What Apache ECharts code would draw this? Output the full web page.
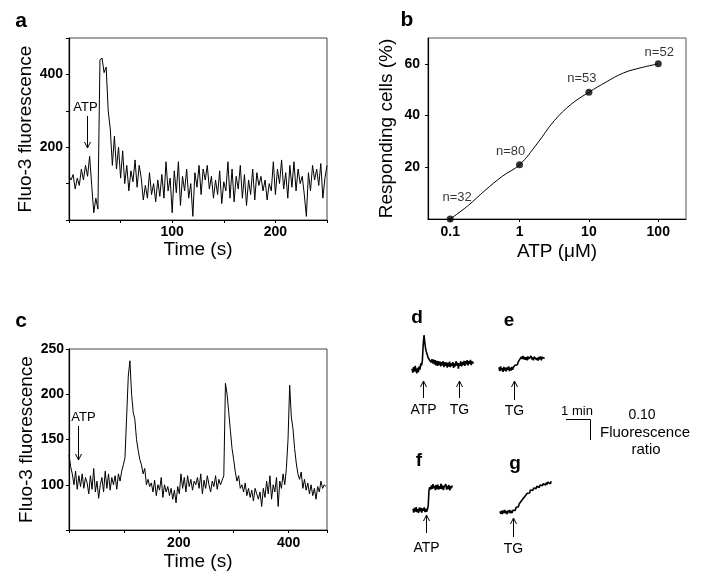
<!DOCTYPE html>
<html>
<head>
<meta charset="utf-8">
<script src="https://cdn.jsdelivr.net/npm/echarts@6/dist/echarts.min.js"></script>
<style>
  html, body { margin: 0; background: #fff; }
  #chart { width: 704px; height: 585px; }
</style>
</head>
<body>
<div id="chart"></div>
<script>
const FONT = 'Liberation Sans, Arial, sans-serif';

// a: Fluo-3 fluorescence, one sample every 2 s
const aStep = 2;
const aTrace = [
  120, 110, 125, 85, 115, 95, 140, 110, 150, 120, 175, 95, 20, 60, 30, 440,
  445, 405, 420, 300, 250, 150, 230, 140, 200, 115, 190, 100, 150, 80, 135, 105,
  165, 90, 150, 115, 55, 95, 60, 130, 70, 100, 50, 110, 65, 125, 60, 160,
  80, 115, 20, 135, 75, 160, 40, 120, 80, 140, 60, 100, 10, 130, 90, 150,
  70, 140, 110, 150, 85, 120, 60, 110, 70, 135, 45, 105, 80, 160, 60, 140,
  50, 120, 85, 150, 60, 125, 40, 110, 70, 140, 55, 130, 95, 120, 80, 110,
  55, 100, 80, 160, 70, 140, 100, 165, 85, 130, 60, 150, 90, 160, 80, 140,
  100, 120, 70, 10, 130, 80, 150, 110, 140, 95, 155, 60, 115, 150
];

// b: dose response
const bConc = [0.1, 1, 10, 100];
const bPercent = [0, 21, 49, 60];
const bCounts = ['n=32', 'n=80', 'n=53', 'n=52'];
const bFitLogConc = [-1, -0.75, -0.5, -0.25, 0, 0.25, 0.5, 0.75, 1, 1.25, 1.5, 1.75, 2];
const bFitPercent = [0, 5, 11, 16.5, 21, 29, 38, 44.5, 49, 53, 56.5, 58.5, 60];
const bTicks = [0.1, 1, 10, 100];

// c: oscillating Fluo-3 fluorescence, one sample every 3 s
const cStep = 3;
const cTrace = [
  133, 120, 112, 100, 115, 95, 110, 98, 112, 96, 108, 102, 90, 110, 95, 118,
  92, 104, 85, 100, 108, 92, 115, 96, 112, 94, 108, 100, 110, 95, 112, 104,
  115, 122, 130, 175, 220, 237, 200, 180, 172, 150, 138, 128, 122, 112, 118, 100,
  106, 98, 102, 92, 105, 88, 100, 94, 108, 86, 100, 92, 98, 88, 96, 84,
  94, 80, 98, 90, 112, 96, 108, 92, 110, 98, 106, 94, 104, 100, 108, 96,
  112, 90, 105, 96, 110, 100, 92, 104, 98, 110, 95, 106, 100, 102, 110, 212,
  200, 180, 160, 140, 128, 114, 104, 110, 96, 100, 92, 102, 88, 96, 86, 94,
  82, 96, 90, 84, 92, 76, 96, 86, 104, 90, 110, 84, 100, 92, 108, 76,
  104, 96, 112, 100, 118, 150, 210, 175, 162, 140, 124, 112, 106, 114, 96, 106,
  94, 102, 90, 100, 88, 96, 84, 98, 92, 104, 96, 100, 98
];

// d-g: fluorescence ratio change, one sample every 2 s
const smallStep = 2;
const dTrace = [
  0.005, -0.015, 0.012, -0.010, 0.018, -0.005, -0.018, 0.008, -0.012, 0.015, 0.000, 0.030, 0.020,
  0.045, 0.120, 0.165, 0.130, 0.100, 0.085, 0.072, 0.058, 0.064, 0.045, 0.052, 0.035, 0.050,
  0.030, 0.048, 0.025, 0.045, 0.020, 0.042, 0.018, 0.040, 0.022, 0.038, 0.015, 0.036, 0.020,
  0.040, 0.012, 0.035, 0.018, 0.034, 0.010, 0.032, 0.015, 0.038, 0.012, 0.030, 0.018, 0.036,
  0.008, 0.030, 0.015, 0.040, 0.020, 0.034, 0.005, 0.030, 0.018, 0.040, 0.015, 0.036, 0.022,
  0.042, 0.018, 0.040, 0.025, 0.045, 0.020, 0.040, 0.028, 0.046, 0.022, 0.040, 0.030, 0.035
];
const eTrace = [
  0.008, -0.010, 0.012, -0.006, 0.004, -0.014, 0.010, -0.008, 0.006, -0.012, 0.008, -0.004,
  0.012, -0.010, 0.006, -0.008, 0.010, -0.004, 0.008, 0.002, 0.018, 0.012, 0.026, 0.020,
  0.034, 0.030, 0.046, 0.040, 0.058, 0.048, 0.062, 0.046, 0.058, 0.044, 0.056, 0.042,
  0.060, 0.048, 0.054, 0.040, 0.062, 0.046, 0.056, 0.042, 0.058, 0.050, 0.062, 0.044,
  0.054, 0.040, 0.058, 0.046, 0.060, 0.042, 0.056, 0.048, 0.058, 0.050
];
const fTrace = [
  0.006, -0.012, 0.010, -0.008, 0.014, -0.010, 0.004, -0.014, 0.012, -0.006, 0.010, -0.012,
  0.008, -0.004, 0.012, -0.010, 0.006, -0.008, 0.002, 0.020, 0.095, 0.110, 0.098, 0.118,
  0.102, 0.124, 0.104, 0.116, 0.096, 0.120, 0.100, 0.122, 0.098, 0.114, 0.102, 0.126,
  0.100, 0.118, 0.096, 0.112, 0.104, 0.124, 0.098, 0.116, 0.100, 0.120, 0.094, 0.114,
  0.104, 0.118
];
const gTrace = [
  0.004, -0.008, 0.006, -0.010, 0.008, -0.004, 0.010, -0.006, 0.004, -0.010, 0.008, -0.002,
  0.010, -0.006, 0.006, -0.004, 0.008, 0.002, 0.014, 0.008, 0.022, 0.016, 0.030, 0.026,
  0.040, 0.034, 0.050, 0.046, 0.060, 0.054, 0.070, 0.066, 0.080, 0.074, 0.090, 0.084,
  0.098, 0.092, 0.106, 0.098, 0.110, 0.104, 0.116, 0.108, 0.120, 0.112, 0.124, 0.116,
  0.126, 0.118, 0.130, 0.122, 0.134, 0.126, 0.136, 0.128, 0.140, 0.130, 0.142, 0.132,
  0.144, 0.136, 0.146, 0.136, 0.148
];

const toPairs = (values, step) => values.map((v, i) => [i * step, v]);

const tickFont = { fontFamily: FONT, fontSize: 14, fontWeight: 'bold', color: '#000' };
const nameFont = { fontFamily: FONT, fontSize: 19, color: '#000' };
const axisLine = { show: true, onZero: false, lineStyle: { color: '#000', width: 1.2 } };
const outTick = { show: true, length: 3, lineStyle: { color: '#000' } };
const traceLine = { color: '#000', width: 1 };
const smallLine = { color: '#000', width: 1.6 };

const hiddenAxis = (gridIndex, min, max) => ({
  type: 'value', gridIndex, min, max, show: false, splitLine: { show: false },
});

const chart = echarts.init(document.getElementById('chart'), null, { renderer: 'canvas' });

const option = {
  animation: false,
  backgroundColor: '#fff',
  grid: [
    { left: 69, top: 38, width: 258, height: 182, show: true, borderColor: '#444', borderWidth: 1 },
    { left: 428, top: 38, width: 258, height: 181, show: true, borderColor: '#555', borderWidth: 1 },
    { left: 69, top: 349, width: 258, height: 181, show: true, borderColor: '#444', borderWidth: 1 },
    { left: 412, top: 330, width: 62, height: 50 },
    { left: 499, top: 340, width: 46, height: 45 },
    { left: 413, top: 475, width: 40, height: 45 },
    { left: 500, top: 475, width: 52, height: 45 },
  ],
  xAxis: [
    {
      type: 'value', gridIndex: 0, min: 0, max: 250, interval: 50,
      name: 'Time (s)', nameLocation: 'middle', nameGap: 13, nameTextStyle: nameFont,
      axisLine, axisTick: outTick, splitLine: { show: false },
      axisLabel: { ...tickFont, margin: 5, customValues: [100, 200] },
    },
    {
      type: 'value', gridIndex: 1, min: -1.32, max: 2.4,
      name: 'ATP (μM)', nameLocation: 'middle', nameGap: 23, nameTextStyle: nameFont,
      axisLine, splitLine: { show: false },
      axisTick: { ...outTick, customValues: bTicks.map(Math.log10) },
      axisLabel: {
        ...tickFont, margin: 6,
        customValues: bTicks.map(Math.log10),
        formatter: v => String(bTicks.find(t => Math.abs(Math.log10(t) - v) < 1e-6)),
      },
    },
    {
      type: 'value', gridIndex: 2, min: 0, max: 470, interval: 100,
      name: 'Time (s)', nameLocation: 'middle', nameGap: 22, nameTextStyle: nameFont,
      axisLine, axisTick: outTick, splitLine: { show: false },
      axisLabel: { ...tickFont, margin: 6, customValues: [200, 400] },
    },
    hiddenAxis(3, 0, 155),
    hiddenAxis(4, 0, 115),
    hiddenAxis(5, 0, 100),
    hiddenAxis(6, 0, 130),
  ],
  yAxis: [
    {
      type: 'value', gridIndex: 0, min: 0, max: 500, interval: 100,
      name: 'Fluo-3 fluorescence', nameLocation: 'middle', nameGap: 33, nameTextStyle: nameFont,
      axisLine, axisTick: outTick, splitLine: { show: false },
      axisLabel: { ...tickFont, margin: 6, customValues: [200, 400] },
    },
    {
      type: 'value', gridIndex: 1, min: 0, max: 70, interval: 10,
      name: 'Responding cells (%)', nameLocation: 'middle', nameGap: 32, nameTextStyle: nameFont,
      axisLine, splitLine: { show: false },
      axisTick: { ...outTick, customValues: [20, 40, 60] },
      axisLabel: { ...tickFont, margin: 8, customValues: [20, 40, 60] },
    },
    {
      type: 'value', gridIndex: 2, min: 50, max: 250, interval: 50,
      name: 'Fluo-3 fluorescence', nameLocation: 'middle', nameGap: 33, nameTextStyle: nameFont,
      axisLine, axisTick: outTick, splitLine: { show: false },
      axisLabel: { ...tickFont, margin: 5, customValues: [100, 150, 200, 250] },
    },
    hiddenAxis(3, -0.05, 0.19),
    hiddenAxis(4, -0.077, 0.139),
    hiddenAxis(5, -0.048, 0.168),
    hiddenAxis(6, -0.038, 0.178),
  ],
  series: [
    {
      type: 'line', xAxisIndex: 0, yAxisIndex: 0, showSymbol: false,
      lineStyle: traceLine, data: toPairs(aTrace, aStep),
    },
    {
      type: 'line', xAxisIndex: 1, yAxisIndex: 1, showSymbol: false, smooth: 0.4,
      lineStyle: traceLine, data: bFitLogConc.map((x, i) => [x, bFitPercent[i]]),
    },
    {
      type: 'scatter', xAxisIndex: 1, yAxisIndex: 1, symbolSize: 7,
      itemStyle: { color: '#000' },
      label: {
        show: true, position: 'top', distance: 8,
        fontFamily: FONT, fontSize: 13, color: '#000', textBorderWidth: 0,
        formatter: p => bCounts[p.dataIndex],
      },
      data: bConc.map((c, i) => ({
        value: [Math.log10(c), bPercent[i]],
        label: { offset: [[7, -4], [-9, 5], [-7, 4], [1, 7]][i] },
      })),
    },
    {
      type: 'line', xAxisIndex: 2, yAxisIndex: 2, showSymbol: false,
      lineStyle: traceLine, data: toPairs(cTrace, cStep),
    },
    {
      type: 'line', xAxisIndex: 3, yAxisIndex: 3, showSymbol: false,
      lineStyle: smallLine, data: toPairs(dTrace, smallStep),
    },
    {
      type: 'line', xAxisIndex: 4, yAxisIndex: 4, showSymbol: false,
      lineStyle: smallLine, data: toPairs(eTrace, smallStep),
    },
    {
      type: 'line', xAxisIndex: 5, yAxisIndex: 5, showSymbol: false,
      lineStyle: smallLine, data: toPairs(fTrace, smallStep),
    },
    {
      type: 'line', xAxisIndex: 6, yAxisIndex: 6, showSymbol: false,
      lineStyle: smallLine, data: toPairs(gTrace, smallStep),
    },
  ],
};

chart.setOption(option);

// annotations: panel letters, stimulus arrows, scale bar
const text = (x, y, str, size, weight, align) => ({
  type: 'text', x, y, silent: true,
  style: {
    text: str, fill: '#000', font: `${weight || 'normal'} ${size}px ${FONT}`,
    align: align || 'center', verticalAlign: 'middle',
    textAlign: align || 'center', textVerticalAlign: 'middle',
  },
});

// t is in the grid's own time units, so arrows sit on the trace's time axis
function arrow(gridIndex, t, tipY, tailY, label, labelY, size, dx) {
  const x = Math.round(chart.convertToPixel({ gridIndex }, [t, 0])[0]) + 0.5;
  const back = tipY > tailY ? -6 : 6;
  return [
    { type: 'line', silent: true, shape: { x1: x, y1: tailY, x2: x, y2: tipY }, style: { stroke: '#000', lineWidth: 1 } },
    {
      type: 'polyline', silent: true,
      shape: { points: [[x - 3, tipY + back], [x, tipY], [x + 3, tipY + back]] },
      style: { stroke: '#000', fill: null, lineWidth: 1 },
    },
    text(x + (dx || 0), labelY, label, size),
  ];
}

const graphics = [
  text(21, 21, 'a', 21, 'bold'),
  text(407, 20, 'b', 21, 'bold'),
  text(21, 321, 'c', 21, 'bold'),
  text(417, 318, 'd', 19, 'bold'),
  text(509, 321, 'e', 19, 'bold'),
  text(419, 461, 'f', 19, 'bold'),
  text(515, 464, 'g', 19, 'bold'),
  ...arrow(0, 17, 148, 116, 'ATP', 107, 13, -2),
  ...arrow(2, 17, 460, 426, 'ATP', 417, 13, 5),
  ...arrow(3, 27.5, 381, 398, 'ATP', 410, 14),
  ...arrow(3, 117.5, 381, 398, 'TG', 410, 14),
  ...arrow(4, 37, 381, 400, 'TG', 411, 14),
  ...arrow(5, 33.5, 515, 533, 'ATP', 548, 14),
  ...arrow(6, 33, 518, 537, 'TG', 549, 14),
  {
    type: 'polyline', silent: true,
    shape: { points: [[566, 419.5], [590.5, 419.5], [590.5, 440]] },
    style: { stroke: '#000', fill: null, lineWidth: 1 },
  },
  text(577, 411, '1 min', 13),
  text(642, 415, '0.10', 14),
  text(645, 433, 'Fluorescence', 15),
  text(646, 450, 'ratio', 15),
];

chart.setOption({ graphic: graphics });
</script>
</body>
</html>
